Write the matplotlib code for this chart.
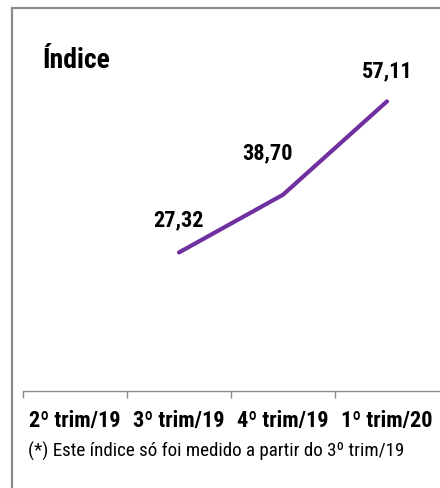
import matplotlib
matplotlib.use("Agg")
import matplotlib.pyplot as plt
from matplotlib.patches import Rectangle
from matplotlib import font_manager

# data
categorias = ["2º trim/19", "3º trim/19", "4º trim/19", "1º trim/20"]
trim_idx = [1, 2, 3]
valores = [27.32, 38.70, 57.11]
rotulos = ["27,32", "38,70", "57,11"]

# narrow font if there is one, otherwise Roboto (a bit narrower than Liberation)
names = set(f.name for f in font_manager.fontManager.ttflist)
fam = "Roboto"
narrow = False
for cand in ["Liberation Sans Narrow", "Arial Narrow", "Roboto Condensed", "DejaVu Sans Condensed", "Open Sans Condensed"]:
    if cand in names:
        fam = cand
        narrow = True
        break
if fam not in names:
    fam = "Liberation Sans"
plt.rcParams['font.family'] = [fam, 'DejaVu Sans']
k = 1.0 if narrow else 0.92

fig = plt.figure(figsize=(4.4, 4.88), dpi=100)
fig.patches.append(Rectangle((12/440, -0.1), 1.2, 1 - 8/488 + 0.1, transform=fig.transFigure,
                             fill=False, edgecolor='#8c8c8c', linewidth=1.6))

ax = fig.add_axes([23/440, 97/488, 416/440, 355/488])
ax.plot(trim_idx, valores, color='#7030A0', linewidth=3.0, solid_capstyle='round', solid_joinstyle='round')

offsets = [(0, 23), (-11.5, 29.5), (0, 21.6)]
for x, y, lab, off in zip(trim_idx, valores, rotulos, offsets):
    ax.annotate(lab, (x, y), xytext=off, textcoords='offset points', ha='center', va='center',
                fontsize=16*k, fontweight='bold')

ax.set_xlim(-0.5, 3.5)
ax.set_ylim(0, 70)
ax.set_xticks(range(len(categorias)))
ax.set_xticklabels(categorias, fontsize=16*k, fontweight='bold')
ax.set_xticks([-0.5, 0.5, 1.5, 2.5], minor=True)
ax.tick_params(axis='x', which='major', length=0, pad=14)
ax.tick_params(axis='x', which='minor', length=5, color='#8c8c8c', width=1)
ax.set_yticks([])
for s in ['left', 'right', 'top']:
    ax.spines[s].set_visible(False)
ax.spines['bottom'].set_color('#8c8c8c')
ax.spines['bottom'].set_linewidth(1)

fig.text(42/440, 1 - 68/488, "Índice", fontsize=20*k, fontweight='bold', va='baseline')
fig.text(28/440, 1 - 457/488, "(*) Este índice só foi medido a partir do 3º trim/19", fontsize=13.7*k, va='baseline')

fig.savefig("out.png", dpi=100)
